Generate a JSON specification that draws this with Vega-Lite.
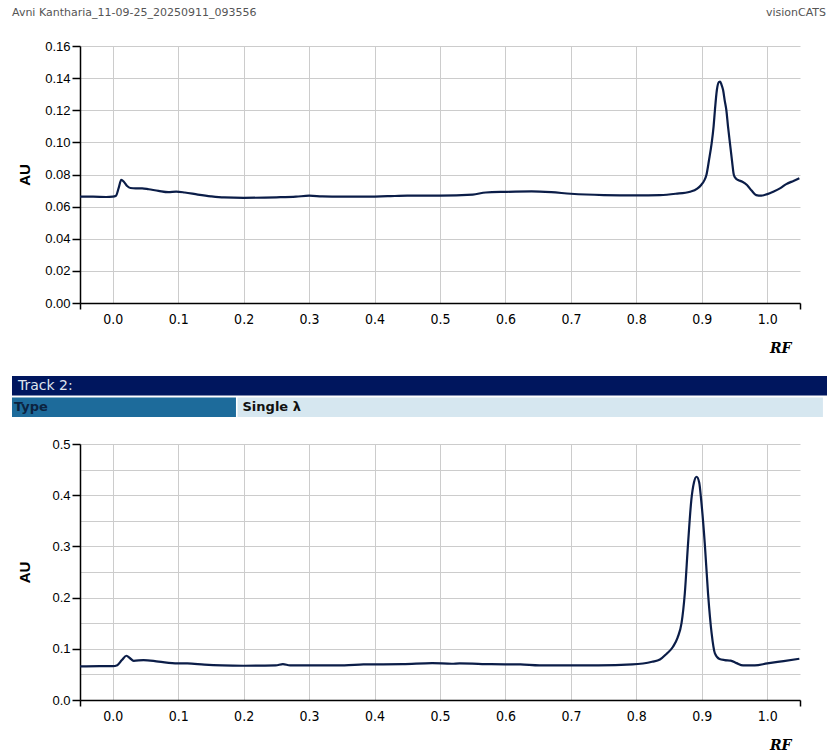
{
  "$schema": "https://vega.github.io/schema/vega-lite/v6.json",
  "background": "white",
  "padding": {"left": 12, "top": 7, "right": 0, "bottom": 0},
  "autosize": {"type": "pad"},
  "spacing": 21,
  "config": {
    "view": {"stroke": null},
    "axis": {
      "gridColor": "#cccccc",
      "gridWidth": 1,
      "domainColor": "#000000",
      "domainWidth": 1.5,
      "tickColor": "#000000",
      "tickWidth": 1.5,
      "labelColor": "#000000",
      "titleColor": "#000000"
    }
  },
  "datasets": {
    "track1": [
      {"rf": -0.05, "au": 0.0662}, {"rf": -0.03, "au": 0.0662}, {"rf": -0.01, "au": 0.066}, {"rf": 0.0, "au": 0.0662},
      {"rf": 0.005, "au": 0.0668}, {"rf": 0.009, "au": 0.0715}, {"rf": 0.013, "au": 0.0766}, {"rf": 0.017, "au": 0.0755},
      {"rf": 0.022, "au": 0.0728}, {"rf": 0.027, "au": 0.0716}, {"rf": 0.035, "au": 0.0714}, {"rf": 0.045, "au": 0.0714},
      {"rf": 0.055, "au": 0.0708}, {"rf": 0.07, "au": 0.0698}, {"rf": 0.085, "au": 0.069}, {"rf": 0.097, "au": 0.0693},
      {"rf": 0.11, "au": 0.0688}, {"rf": 0.13, "au": 0.0675}, {"rf": 0.15, "au": 0.0664}, {"rf": 0.17, "au": 0.0657},
      {"rf": 0.2, "au": 0.0655}, {"rf": 0.25, "au": 0.0658}, {"rf": 0.28, "au": 0.0662}, {"rf": 0.3, "au": 0.0668},
      {"rf": 0.32, "au": 0.0664}, {"rf": 0.35, "au": 0.0662}, {"rf": 0.38, "au": 0.0662}, {"rf": 0.42, "au": 0.0665},
      {"rf": 0.45, "au": 0.0668}, {"rf": 0.5, "au": 0.0668}, {"rf": 0.55, "au": 0.0675}, {"rf": 0.57, "au": 0.0688},
      {"rf": 0.6, "au": 0.0692}, {"rf": 0.64, "au": 0.0695}, {"rf": 0.67, "au": 0.069}, {"rf": 0.7, "au": 0.068},
      {"rf": 0.75, "au": 0.0672}, {"rf": 0.8, "au": 0.067}, {"rf": 0.836, "au": 0.0672}, {"rf": 0.86, "au": 0.068},
      {"rf": 0.882, "au": 0.0693}, {"rf": 0.893, "au": 0.0712}, {"rf": 0.899, "au": 0.0735}, {"rf": 0.904, "au": 0.0765},
      {"rf": 0.907, "au": 0.0797}, {"rf": 0.911, "au": 0.089}, {"rf": 0.915, "au": 0.0994}, {"rf": 0.918, "au": 0.11},
      {"rf": 0.92, "au": 0.12}, {"rf": 0.923, "au": 0.1326}, {"rf": 0.926, "au": 0.1375}, {"rf": 0.928, "au": 0.1378},
      {"rf": 0.93, "au": 0.136}, {"rf": 0.9325, "au": 0.1326}, {"rf": 0.935, "au": 0.126}, {"rf": 0.9375, "au": 0.12},
      {"rf": 0.94, "au": 0.11}, {"rf": 0.943, "au": 0.0994}, {"rf": 0.946, "au": 0.089}, {"rf": 0.949, "au": 0.0797},
      {"rf": 0.952, "au": 0.0775}, {"rf": 0.9555, "au": 0.0766}, {"rf": 0.962, "au": 0.0755}, {"rf": 0.969, "au": 0.0735},
      {"rf": 0.976, "au": 0.07}, {"rf": 0.983, "au": 0.0672}, {"rf": 0.991, "au": 0.0668}, {"rf": 1.0, "au": 0.0678},
      {"rf": 1.009, "au": 0.0693}, {"rf": 1.02, "au": 0.0715}, {"rf": 1.029, "au": 0.074}, {"rf": 1.04, "au": 0.076},
      {"rf": 1.049, "au": 0.0776}
    ],
    "track2": [
      {"rf": -0.05, "au": 0.0655}, {"rf": -0.02, "au": 0.066}, {"rf": 0.0, "au": 0.066}, {"rf": 0.007, "au": 0.068},
      {"rf": 0.014, "au": 0.078}, {"rf": 0.021, "au": 0.0864}, {"rf": 0.026, "au": 0.082}, {"rf": 0.032, "au": 0.0766},
      {"rf": 0.047, "au": 0.078}, {"rf": 0.07, "au": 0.075}, {"rf": 0.099, "au": 0.0714}, {"rf": 0.114, "au": 0.0714},
      {"rf": 0.14, "au": 0.069}, {"rf": 0.167, "au": 0.0675}, {"rf": 0.2, "au": 0.0669}, {"rf": 0.249, "au": 0.0675},
      {"rf": 0.26, "au": 0.07}, {"rf": 0.271, "au": 0.0675}, {"rf": 0.3, "au": 0.0675}, {"rf": 0.354, "au": 0.0675},
      {"rf": 0.383, "au": 0.0694}, {"rf": 0.443, "au": 0.07}, {"rf": 0.488, "au": 0.072}, {"rf": 0.518, "au": 0.0708},
      {"rf": 0.53, "au": 0.0715}, {"rf": 0.578, "au": 0.07}, {"rf": 0.623, "au": 0.0694}, {"rf": 0.652, "au": 0.0675},
      {"rf": 0.742, "au": 0.0675}, {"rf": 0.794, "au": 0.0694}, {"rf": 0.824, "au": 0.0746}, {"rf": 0.836, "au": 0.079},
      {"rf": 0.846, "au": 0.09}, {"rf": 0.856, "au": 0.104}, {"rf": 0.863, "au": 0.122}, {"rf": 0.869, "au": 0.15},
      {"rf": 0.874, "au": 0.208}, {"rf": 0.879, "au": 0.306}, {"rf": 0.884, "au": 0.391}, {"rf": 0.888, "au": 0.425},
      {"rf": 0.892, "au": 0.436}, {"rf": 0.896, "au": 0.425}, {"rf": 0.899, "au": 0.391}, {"rf": 0.9045, "au": 0.306},
      {"rf": 0.9095, "au": 0.208}, {"rf": 0.915, "au": 0.13}, {"rf": 0.92, "au": 0.091}, {"rf": 0.927, "au": 0.08},
      {"rf": 0.935, "au": 0.078}, {"rf": 0.944, "au": 0.077}, {"rf": 0.953, "au": 0.072}, {"rf": 0.963, "au": 0.0675},
      {"rf": 0.981, "au": 0.0675}, {"rf": 1.0, "au": 0.0714}, {"rf": 1.025, "au": 0.076}, {"rf": 1.049, "au": 0.0805}
    ]
  },
  "vconcat": [
    {
      "width": 746,
      "height": 12,
      "data": {"values": [
        {"label": "Avni Kantharia_11-09-25_20250911_093556", "side": "left"},
        {"label": "visionCATS", "side": "right"}
      ]},
      "encoding": {
        "x": {"field": "side", "type": "nominal", "scale": {"type": "point", "domain": ["left", "right"], "range": [-68, 746], "padding": 0}, "axis": null},
        "text": {"field": "label"}
      },
      "layer": [
        {"transform": [{"filter": "datum.side == 'left'"}], "mark": {"type": "text", "align": "left", "font": "DejaVu Sans", "fontSize": 11, "color": "#555555"}},
        {"transform": [{"filter": "datum.side == 'right'"}], "mark": {"type": "text", "align": "right", "font": "DejaVu Sans", "fontSize": 11, "color": "#555555"}}
      ]
    },
    {
      "width": 720,
      "height": 257,
      "data": {"name": "track1"},
      "mark": {"type": "line", "color": "#0b1d48", "strokeWidth": 2.2, "interpolate": "monotone"},
      "encoding": {
        "x": {
          "field": "rf", "type": "quantitative",
          "scale": {"domain": [-0.05, 1.05], "nice": false, "zero": false},
          "axis": {
            "title": "RF", "values": [-0.05, 0, 0.1, 0.2, 0.3, 0.4, 0.5, 0.6, 0.7, 0.8, 0.9, 1.0, 1.05],
            "format": ".1f",
            "labelExpr": "datum.value < -0.01 || datum.value > 1.01 ? '' : datum.label",
            "tickOpacity": {"condition": {"test": "datum.value < -0.01 || datum.value > 1.01", "value": 1}, "value": 0},
            "gridOpacity": {"condition": {"test": "datum.value < -0.01 || datum.value > 1.01", "value": 0}, "value": 1},
            "tickSize": 6, "labelPadding": 3, "labelFlush": false,
            "labelFont": "Liberation Sans Narrow, DejaVu Sans Condensed, Roboto", "labelFontSize": 14,
            "titleAnchor": "end", "titleX": 711, "titlePadding": 15, "titleFont": "DejaVu Serif", "titleFontStyle": "italic", "titleFontSize": 14, "titleFontWeight": "bold"
          }
        },
        "y": {
          "field": "au", "type": "quantitative",
          "scale": {"domain": [0, 0.16], "nice": false},
          "axis": {
            "title": "AU", "values": [0, 0.02, 0.04, 0.06, 0.08, 0.1, 0.12, 0.14, 0.16], "format": ".2f",
            "tickSize": 8, "labelPadding": 2, "minExtent": 36, "maxExtent": 36,
            "labelFont": "Liberation Sans", "labelFontSize": 13,
            "titlePadding": 12, "titleFont": "Liberation Sans", "titleFontSize": 15, "titleFontWeight": "bold"
          }
        }
      }
    },
    {
      "width": 747,
      "height": 41,
      "data": {"values": [
        {"row": "Track 2:", "cell": "header", "label": "Track 2:", "start": 0, "end": 1},
        {"row": "Type", "cell": "key", "label": "Type", "start": 0, "end": 0.2748},
        {"row": "Type", "cell": "value", "label": "Single λ", "start": 0.2767, "end": 0.995}
      ]},
      "encoding": {
        "x": {"field": "start", "type": "quantitative", "scale": {"domain": [0, 1], "range": [-68, 747], "nice": false, "zero": false}, "axis": null},
        "y": {"field": "row", "type": "nominal", "scale": {"domain": ["Track 2:", "Type"], "paddingInner": 0.1, "paddingOuter": 0}, "axis": null}
      },
      "layer": [
        {
          "mark": {"type": "rect"},
          "encoding": {
            "x2": {"field": "end"},
            "color": {"field": "cell", "type": "nominal", "scale": {"domain": ["header", "key", "value"], "range": ["#00165e", "#1d6b9b", "#d6e7f0"]}, "legend": null}
          }
        },
        {"transform": [{"filter": "datum.cell == 'header'"}], "mark": {"type": "text", "align": "left", "dx": 6, "font": "DejaVu Sans", "fontSize": 14, "color": "#dfe4ee"}, "encoding": {"text": {"field": "label"}}},
        {"transform": [{"filter": "datum.cell == 'key'"}], "mark": {"type": "text", "align": "left", "dx": 2, "font": "DejaVu Sans", "fontSize": 13, "fontWeight": "bold", "color": "#0c2340"}, "encoding": {"text": {"field": "label"}}},
        {"transform": [{"filter": "datum.cell == 'value'"}], "mark": {"type": "text", "align": "left", "dx": 5, "font": "DejaVu Sans", "fontSize": 13, "fontWeight": "bold", "color": "#111111"}, "encoding": {"text": {"field": "label"}}}
      ]
    },
    {
      "width": 720,
      "height": 256,
      "data": {"name": "track2"},
      "mark": {"type": "line", "color": "#0b1d48", "strokeWidth": 2.2, "interpolate": "monotone"},
      "encoding": {
        "x": {
          "field": "rf", "type": "quantitative",
          "scale": {"domain": [-0.05, 1.05], "nice": false, "zero": false},
          "axis": {
            "title": "RF", "values": [-0.05, 0, 0.1, 0.2, 0.3, 0.4, 0.5, 0.6, 0.7, 0.8, 0.9, 1.0, 1.05],
            "format": ".1f",
            "labelExpr": "datum.value < -0.01 || datum.value > 1.01 ? '' : datum.label",
            "tickOpacity": {"condition": {"test": "datum.value < -0.01 || datum.value > 1.01", "value": 1}, "value": 0},
            "gridOpacity": {"condition": {"test": "datum.value < -0.01 || datum.value > 1.01", "value": 0}, "value": 1},
            "tickSize": 6, "labelPadding": 3, "labelFlush": false,
            "labelFont": "Liberation Sans Narrow, DejaVu Sans Condensed, Roboto", "labelFontSize": 14,
            "titleAnchor": "end", "titleX": 711, "titlePadding": 15, "titleFont": "DejaVu Serif", "titleFontStyle": "italic", "titleFontSize": 14, "titleFontWeight": "bold"
          }
        },
        "y": {
          "field": "au", "type": "quantitative",
          "scale": {"domain": [0, 0.5], "nice": false},
          "axis": {
            "title": "AU", "values": [0, 0.05, 0.1, 0.15, 0.2, 0.25, 0.3, 0.35, 0.4, 0.45, 0.5], "format": ".1f",
            "labelExpr": "abs(datum.value * 10 - round(datum.value * 10)) < 0.001 ? datum.label : ''",
            "tickOpacity": {"condition": {"test": "abs(datum.value * 10 - round(datum.value * 10)) < 0.001", "value": 1}, "value": 0},
            "tickSize": 8, "labelPadding": 2, "minExtent": 36, "maxExtent": 36,
            "labelFont": "Liberation Sans", "labelFontSize": 13,
            "titlePadding": 12, "titleFont": "Liberation Sans", "titleFontSize": 15, "titleFontWeight": "bold"
          }
        }
      }
    }
  ]
}
